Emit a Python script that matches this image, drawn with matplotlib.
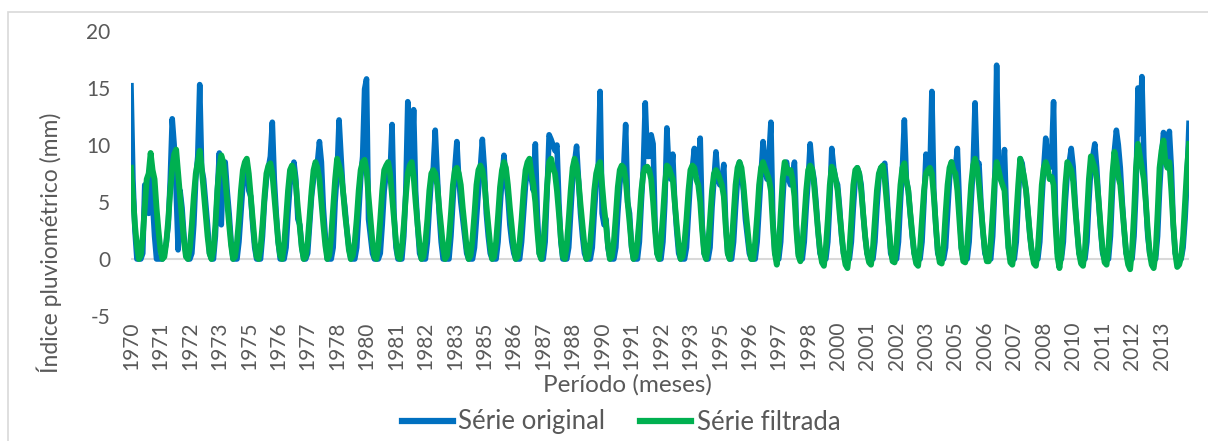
import matplotlib
matplotlib.use("Agg")
import matplotlib.pyplot as plt
from matplotlib.lines import Line2D
from matplotlib.patches import Rectangle

plt.rcParams['font.family'] = ['Lato', 'DejaVu Sans']
plt.rcParams['axes.unicode_minus'] = False

# anos (uma linha por ano, meses jan..dez)
anos = list(range(1970, 2015))

original = [
    [15.2, 7.0, 2.5, 0.0, 0.0, 0.0, 0.5, 6.5, 5.0, 4.0, 7.5, 5.0],   # 1970
    [2.0, 0.0, 0.0, 0.0, 0.0, 0.5, 1.5, 3.0, 7.0, 12.3, 10.0, 6.0],  # 1971
    [0.8, 6.0, 4.5, 2.0, 0.5, 0.0, 0.0, 0.5, 3.0, 7.0, 9.0, 15.3],   # 1972
    [8.0, 7.0, 5.0, 3.0, 0.5, 0.0, 0.0, 2.0, 6.0, 9.3, 3.0, 8.0],    # 1973
    [8.5, 6.0, 4.0, 1.5, 0.0, 0.0, 0.0, 1.5, 4.0, 6.5, 8.0, 8.5],    # 1974
    [6.0, 5.5, 3.0, 1.0, 0.0, 0.0, 0.0, 2.0, 5.0, 7.0, 8.0, 9.0],    # 1975
    [12.0, 7.0, 4.0, 1.5, 0.0, 0.0, 0.0, 1.0, 4.0, 6.5, 7.5, 8.5],   # 1976
    [7.0, 3.5, 3.0, 1.0, 0.0, 0.0, 0.5, 3.0, 5.5, 7.0, 8.0, 8.5],    # 1977
    [10.3, 8.5, 4.5, 2.0, 0.0, 0.0, 0.0, 1.0, 5.0, 7.5, 12.2, 9.0],  # 1978
    [6.0, 4.5, 2.5, 1.0, 0.0, 0.0, 0.0, 1.0, 4.0, 7.0, 9.0, 14.9],   # 1979
    [15.8, 3.5, 2.0, 0.5, 0.0, 0.0, 0.0, 0.5, 3.0, 6.0, 7.5, 8.0],   # 1980
    [7.5, 11.8, 4.0, 1.0, 0.0, 0.0, 0.0, 2.0, 6.0, 13.8, 9.0, 8.0],  # 1981
    [13.1, 6.0, 3.0, 0.5, 0.0, 0.0, 0.0, 1.5, 4.5, 7.0, 8.0, 11.3],  # 1982
    [7.5, 4.0, 1.5, 0.0, 0.0, 0.0, 0.0, 2.0, 5.0, 8.0, 10.3, 7.0],   # 1983
    [5.0, 3.5, 2.0, 0.5, 0.0, 0.0, 0.0, 1.0, 3.5, 6.0, 8.0, 10.5],   # 1984
    [8.0, 4.0, 2.0, 0.5, 0.0, 0.0, 0.0, 1.5, 4.5, 7.0, 9.1, 7.0],    # 1985
    [5.5, 3.0, 1.5, 0.5, 0.0, 0.0, 0.0, 1.5, 4.0, 6.5, 8.0, 8.5],    # 1986
    [7.0, 6.0, 10.1, 4.0, 0.5, 0.0, 0.0, 1.5, 6.0, 10.9, 10.5, 10.0],  # 1987
    [9.5, 10.0, 5.0, 1.5, 0.0, 0.0, 0.0, 1.0, 4.0, 7.0, 8.5, 9.9],   # 1988
    [7.0, 4.0, 2.0, 0.5, 0.0, 0.0, 0.0, 1.0, 4.0, 6.5, 8.0, 14.7],   # 1989
    [4.0, 3.0, 3.5, 1.0, 0.0, 0.0, 0.0, 1.0, 4.0, 6.5, 8.0, 8.0],    # 1990
    [11.8, 5.0, 4.0, 1.0, 0.0, 0.0, 0.0, 1.5, 5.0, 8.0, 13.7, 9.0],  # 1991
    [9.0, 10.9, 10.1, 3.0, 0.5, 0.0, 0.0, 1.5, 5.0, 11.5, 8.0, 7.0],  # 1992
    [9.2, 5.0, 2.5, 0.5, 0.0, 0.0, 0.0, 1.0, 4.0, 7.0, 8.0, 9.7],    # 1993
    [7.5, 8.0, 10.6, 3.0, 0.5, 0.0, 0.0, 1.0, 4.5, 7.0, 9.4, 7.0],   # 1994
    [6.5, 7.0, 8.3, 3.0, 0.5, 0.0, 0.0, 1.5, 4.5, 7.0, 8.5, 7.5],    # 1995
    [6.0, 3.5, 2.0, 0.5, 0.0, 0.0, 0.0, 1.5, 4.5, 7.5, 10.3, 8.0],   # 1996
    [7.0, 9.0, 12.0, 3.5, 0.5, 0.0, 0.0, 1.5, 5.0, 8.0, 8.5, 7.0],   # 1997
    [6.5, 7.0, 8.5, 3.0, 0.5, 0.0, 0.0, 1.5, 4.5, 7.0, 10.1, 8.0],   # 1998
    [7.0, 5.0, 2.5, 0.5, 0.0, 0.0, 0.0, 1.5, 5.0, 9.7, 8.0, 7.0],    # 1999
    [6.5, 4.5, 2.0, 0.5, 0.0, 0.0, 0.0, 1.5, 4.5, 7.0, 8.0, 7.5],    # 2000
    [6.5, 4.0, 2.0, 0.5, 0.0, 0.0, 0.0, 1.5, 4.5, 7.0, 8.0, 8.0],    # 2001
    [8.4, 6.0, 3.0, 0.5, 0.0, 0.0, 0.0, 1.5, 5.0, 8.0, 12.2, 7.0],   # 2002
    [6.0, 4.0, 2.0, 0.5, 0.0, 0.0, 0.0, 1.5, 5.0, 9.2, 8.0, 7.5],    # 2003
    [14.7, 6.0, 3.0, 0.5, 0.0, 0.0, 0.0, 1.0, 4.0, 7.0, 8.5, 8.0],   # 2004
    [8.0, 9.7, 5.0, 1.0, 0.0, 0.0, 0.0, 1.5, 5.0, 8.0, 13.7, 8.0],   # 2005
    [8.4, 5.0, 2.5, 0.5, 0.0, 0.0, 0.0, 2.0, 6.0, 17.0, 8.0, 7.0],   # 2006
    [7.0, 9.6, 4.0, 1.0, 0.0, 0.0, 0.0, 1.5, 5.0, 8.8, 8.4, 7.0],    # 2007
    [6.0, 4.0, 2.0, 0.5, 0.0, 0.0, 0.0, 1.5, 5.0, 8.0, 10.6, 9.0],   # 2008
    [8.0, 9.0, 13.8, 4.0, 0.5, 0.0, 0.0, 1.5, 5.0, 7.5, 8.5, 9.7],   # 2009
    [8.1, 5.0, 2.5, 0.5, 0.0, 0.0, 0.0, 1.5, 5.0, 8.0, 9.0, 10.1],   # 2010
    [8.0, 5.0, 2.5, 0.5, 0.0, 0.0, 0.0, 2.0, 6.0, 9.5, 11.3, 10.0],  # 2011
    [8.0, 5.0, 2.5, 0.5, 0.0, 0.0, 0.0, 2.0, 6.0, 15.0, 11.0, 16.0],  # 2012
    [9.0, 5.0, 2.0, 0.5, 0.0, 0.0, 0.0, 2.0, 6.0, 9.0, 11.1, 10.0],  # 2013
    [9.0, 11.2, 8.0, 3.0, 0.5, 0.0, 0.0, 0.0, 1.0, 3.5, 7.0, 11.9],  # 2014
]

filtrada = [
    [8.0, 5.5, 3.0, 1.2, 0.0, 0.3, 2.0, 4.5, 7.0, 7.5, 9.3, 7.8],    # 1970
    [7.0, 4.5, 2.5, 0.8, 0.0, 0.2, 1.5, 3.5, 6.0, 8.0, 9.2, 9.6],    # 1971
    [7.5, 5.5, 3.5, 1.5, 0.2, 0.0, 1.0, 3.0, 5.5, 7.5, 8.5, 9.5],    # 1972
    [8.0, 6.0, 4.0, 2.0, 0.5, 0.0, 0.8, 3.0, 6.0, 8.0, 9.1, 8.5],    # 1973
    [7.0, 5.0, 3.0, 1.2, 0.0, 0.2, 1.5, 3.5, 6.0, 7.8, 8.5, 8.8],    # 1974
    [7.5, 5.5, 3.5, 1.5, 0.2, 0.0, 1.0, 3.0, 5.5, 7.5, 8.2, 8.4],    # 1975
    [7.5, 5.5, 3.5, 1.5, 0.3, 0.0, 1.2, 3.5, 6.0, 7.8, 8.2, 7.8],    # 1976
    [6.5, 4.5, 2.8, 1.0, 0.0, 0.2, 1.5, 3.8, 6.0, 7.8, 8.5, 8.0],    # 1977
    [7.0, 5.0, 3.0, 1.2, 0.0, 0.3, 2.0, 4.5, 7.0, 8.8, 8.2, 7.5],    # 1978
    [6.0, 4.0, 2.5, 0.8, 0.0, 0.3, 1.5, 3.5, 6.0, 7.8, 8.5, 8.7],    # 1979
    [7.8, 5.5, 3.5, 1.5, 0.2, 0.0, 1.2, 3.5, 6.0, 7.8, 8.2, 8.5],    # 1980
    [7.5, 5.5, 3.5, 1.5, 0.2, 0.0, 1.0, 3.0, 5.5, 7.5, 8.2, 8.5],    # 1981
    [7.2, 5.0, 3.0, 1.2, 0.0, 0.2, 1.5, 3.5, 6.0, 7.5, 7.8, 7.5],    # 1982
    [6.5, 4.5, 2.8, 1.0, 0.0, 0.3, 1.8, 4.0, 6.5, 7.8, 8.0, 7.5],    # 1983
    [6.5, 4.5, 2.8, 1.0, 0.0, 0.3, 1.8, 4.0, 6.5, 7.8, 8.2, 7.8],    # 1984
    [6.8, 4.8, 3.0, 1.2, 0.0, 0.2, 1.5, 3.8, 6.3, 7.8, 8.5, 8.0],    # 1985
    [6.5, 4.5, 2.8, 1.0, 0.0, 0.2, 1.5, 3.5, 6.0, 7.8, 8.5, 8.8],    # 1986
    [7.5, 6.5, 5.0, 2.5, 0.5, 0.0, 1.2, 3.5, 6.5, 8.5, 8.8, 8.0],    # 1987
    [7.5, 6.0, 4.0, 1.8, 0.2, 0.0, 1.2, 3.5, 6.0, 8.0, 8.8, 8.2],    # 1988
    [6.8, 4.8, 3.0, 1.2, 0.0, 0.2, 1.5, 3.5, 6.0, 7.5, 8.2, 8.5],    # 1989
    [6.5, 4.5, 3.0, 1.2, 0.0, 0.2, 1.5, 3.8, 6.3, 7.8, 8.2, 8.0],    # 1990
    [7.0, 5.0, 3.2, 1.2, 0.0, 0.2, 1.5, 3.5, 6.0, 7.5, 8.0, 8.1],    # 1991
    [7.8, 7.0, 5.0, 2.5, 0.5, 0.0, 1.5, 3.8, 6.5, 8.2, 8.0, 7.5],    # 1992
    [7.0, 5.0, 3.0, 1.2, 0.0, 0.2, 1.5, 3.5, 6.0, 7.8, 8.2, 8.0],    # 1993
    [7.0, 6.5, 5.0, 2.5, 0.5, 0.0, 1.2, 3.5, 6.0, 7.5, 7.8, 7.5],    # 1994
    [7.0, 6.5, 5.5, 2.8, 0.5, 0.0, 1.2, 3.8, 6.5, 8.0, 8.5, 8.0],    # 1995
    [6.5, 4.5, 2.8, 1.0, 0.0, 0.0, 1.5, 3.8, 6.5, 8.0, 8.5, 8.0],    # 1996
    [7.5, 7.0, 6.0, 3.0, 0.5, -0.5, 1.0, 4.0, 7.0, 8.5, 8.0, 7.5],   # 1997
    [7.8, 7.0, 5.5, 2.5, 0.3, -0.2, 1.2, 3.5, 6.0, 7.8, 8.2, 7.9],   # 1998
    [6.5, 4.5, 2.5, 0.8, -0.3, -0.6, 1.0, 3.5, 6.5, 8.1, 7.8, 7.0],  # 1999
    [6.0, 4.0, 2.2, 0.5, -0.5, -0.8, 0.8, 3.5, 6.5, 7.8, 8.0, 7.5],  # 2000
    [6.0, 4.0, 2.0, 0.5, -0.3, -0.5, 1.0, 3.5, 6.0, 7.5, 8.0, 8.2],  # 2001
    [7.0, 5.0, 3.0, 1.0, -0.2, -0.3, 1.2, 4.0, 6.5, 8.0, 8.4, 6.9],  # 2002
    [6.0, 4.0, 2.2, 0.5, -0.4, -0.6, 1.0, 3.5, 6.0, 7.5, 7.8, 8.0],  # 2003
    [7.5, 5.5, 3.0, 0.8, -0.3, -0.4, 1.2, 4.0, 6.5, 8.0, 8.5, 7.8],  # 2004
    [7.5, 6.0, 3.5, 1.0, -0.2, -0.3, 1.2, 3.8, 6.5, 8.2, 8.8, 8.0],  # 2005
    [6.5, 4.5, 2.5, 0.8, -0.2, -0.2, 1.5, 4.0, 7.0, 8.5, 7.8, 7.0],  # 2006
    [6.5, 6.0, 3.5, 1.0, -0.3, -0.5, 1.0, 3.8, 6.5, 8.8, 8.0, 7.2],  # 2007
    [6.0, 4.0, 2.0, 0.5, -0.4, -0.6, 0.8, 3.5, 6.5, 8.0, 8.5, 8.0],  # 2008
    [7.0, 7.2, 6.5, 3.0, 0.2, -0.8, 0.5, 3.5, 6.5, 8.5, 8.2, 7.8],   # 2009
    [6.8, 4.5, 2.5, 0.5, -0.4, -0.6, 0.8, 3.8, 7.0, 9.0, 8.5, 8.0],  # 2010
    [7.0, 5.0, 2.8, 0.8, -0.3, -0.5, 1.0, 4.0, 7.5, 9.4, 8.5, 7.2],  # 2011
    [6.5, 4.5, 2.5, 0.5, -0.5, -0.9, 0.8, 4.0, 8.0, 10.1, 9.0, 8.0],  # 2012
    [7.0, 5.0, 2.5, 0.5, -0.5, -0.8, 0.5, 4.0, 8.0, 9.5, 10.4, 8.5],  # 2013
    [8.0, 8.5, 6.0, 3.0, 0.5, -0.7, -0.5, 0.2, 2.0, 5.0, 8.0, 10.1],  # 2014
]

serie_orig = [v for linha in original for v in linha]
serie_filt = [v for linha in filtrada for v in linha]
rotulos = [str(a) for a in anos for m in range(12)]
x = list(range(len(serie_orig)))

cinza = '#595959'
azul = '#0070C0'
verde = '#00B050'

fig = plt.figure(figsize=(12.08, 4.41), dpi=100)
ax = fig.add_axes([131/1208, 1 - 316/441, (1189 - 131)/1208, (316 - 31)/441])

ax.axhline(0, color='#D9D9D9', lw=1.5, zorder=1)
ax.plot(x, serie_orig, color=azul, lw=4.0, solid_joinstyle='round', zorder=2)
ax.plot(x, serie_filt, color=verde, lw=4.2, solid_joinstyle='round', zorder=3)

ax.set_xlim(0, len(x) - 1)
ax.set_ylim(-5, 20)
ax.set_yticks([-5, 0, 5, 10, 15, 20])
ax.set_xticks(x[::15])
ax.set_xticklabels(rotulos[::15], rotation=90)
ax.tick_params(axis='y', length=0, pad=15, labelsize=15, labelcolor=cinza)
ax.tick_params(axis='x', length=0, pad=4, labelsize=15, labelcolor=cinza)
for s in ax.spines.values():
    s.set_visible(False)

fig.text(627/1208, 1 - 385/441, 'Período (meses)', ha='center', va='center',
         fontsize=17.5, color=cinza)
fig.text(49/1208, 1 - 243/441, 'Índice pluviométrico (mm)', ha='center', va='center',
         rotation=90, fontsize=16.5, color=cinza)

handles = [Line2D([], [], color=azul, lw=4.5), Line2D([], [], color=verde, lw=4.5)]
fig.legend(handles, ['Série original', 'Série filtrada'], loc='center',
           bbox_to_anchor=(621/1208, 1 - 422/441), ncol=2, frameon=False,
           fontsize=18.5, labelcolor=cinza, handlelength=2.0, handletextpad=0.2,
           columnspacing=1.35)

fig.patches.append(Rectangle((8/1208, -0.1), 1.2, (441 - 12)/441 + 0.1,
                             transform=fig.transFigure, fill=False,
                             edgecolor='#D9D9D9', lw=1.2))

fig.savefig('out.png', dpi=100)
